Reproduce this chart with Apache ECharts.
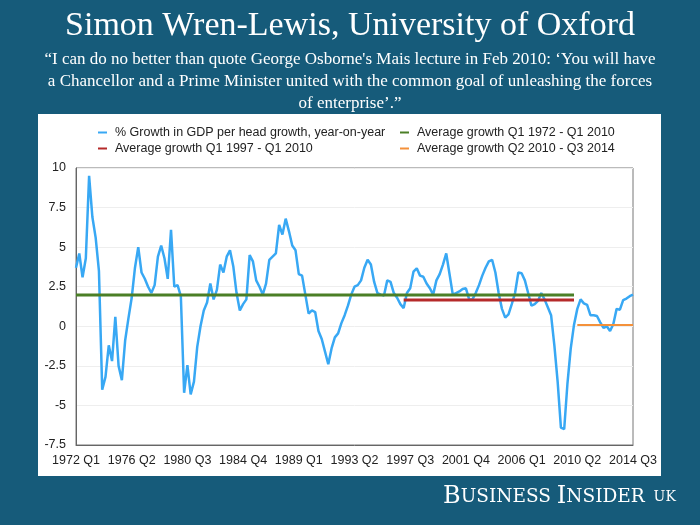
<!DOCTYPE html>
<html>
<head>
<meta charset="utf-8">
<script src="https://cdn.jsdelivr.net/npm/echarts@6/dist/echarts.min.js"></script>
<style>
html,body{margin:0;padding:0;background:#165b7a;}
#chart{width:700px;height:525px;}
</style>
</head>
<body>
<div id="chart"></div>
<script>
// Quarterly categories 1972 Q1 .. 2014 Q3
const startYear = 1972, endYear = 2014, endQuarter = 3;
const categories = [];
for (let y = startYear; y <= endYear; y++) {
  for (let q = 1; q <= 4; q++) {
    if (y === endYear && q > endQuarter) break;
    categories.push(y + ' Q' + q);
  }
}

// % growth in GDP per head, year-on-year
const growth = [
  3.7, 4.6, 3.1, 4.3, 9.5, 6.9, 5.6, 3.5, -4.0, -3.2,
  -1.2, -2.2, 0.6, -2.5, -3.4, -0.9, 0.5, 1.8, 3.7, 5.0,
  3.4, 3.0, 2.5, 2.1, 2.6, 4.4, 5.1, 4.3, 3.0, 6.1,
  2.5, 2.6, 1.9, -4.2, -2.45, -4.3, -3.5, -1.3, 0.0, 1.0,
  1.5, 2.7, 1.7, 2.3, 3.9, 3.4, 4.4, 4.8, 3.8, 2.1,
  1.0, 1.4, 1.7, 4.5, 4.1, 2.9, 2.5, 2.0, 2.7, 4.2,
  4.4, 4.6, 6.4, 5.8, 6.8, 6.0, 5.1, 4.8, 3.3, 3.2,
  2.0, 0.8, 1.0, 0.9, -0.3, -0.8, -1.6, -2.4, -1.4, -0.7,
  -0.45, 0.2, 0.7, 1.3, 2.0, 2.5, 2.6, 2.9, 3.7, 4.2,
  3.9, 2.8, 2.1, 2.0, 1.95, 2.9, 2.8, 2.1, 1.8, 1.4,
  1.15, 2.1, 2.4, 3.45, 3.66, 3.2, 3.13, 2.7, 2.4, 2.0,
  2.9, 3.3, 3.9, 4.6, 3.3, 2.0, 2.1, 2.2, 2.35, 2.4,
  1.7, 1.7, 2.1, 2.6, 3.2, 3.7, 4.1, 4.2, 3.4, 2.1,
  1.1, 0.55, 0.75, 1.4, 2.1, 3.4, 3.35, 2.9, 2.1, 1.3,
  1.4, 1.6, 2.1, 1.7, 1.2, 0.7, -1.2, -3.5, -6.4, -6.5,
  -3.6, -1.4, 0.1, 1.1, 1.7, 1.45, 1.35, 0.7, 0.7, 0.65,
  0.25, -0.1, 0.0, -0.3, 0.15, 1.1, 1.05, 1.65, 1.75, 1.9,
  2.0
];

// Average lines: [value, first category, last category]
const avgLong = [1.98, '1972 Q1', '2010 Q1'];
const avgBlair = [1.66, '1997 Q1', '2010 Q1'];
const avgRecent = [0.08, '2010 Q2', '2014 Q3'];

const seriesNames = [
  '% Growth in GDP per head growth, year-on-year',
  'Average growth Q1 1972 - Q1 2010',
  'Average growth Q1 1997 - Q1 2010',
  'Average growth Q2 2010 - Q3 2014'
];
const yTicks = ['-7.5', '-5', '-2.5', '0', '2.5', '5', '7.5', '10'];

const titleText = 'Simon Wren-Lewis, University of Oxford';
const quoteLines = [
  '\u201cI can do no better than quote George Osborne\'s Mais lecture in Feb 2010: \u2018You will have',
  'a Chancellor and a Prime Minister united with the common goal of unleashing the forces',
  'of enterprise\u2019.\u201d'
];

function flatLine(spec) {
  const a = categories.indexOf(spec[1]), b = categories.indexOf(spec[2]);
  return categories.map((c, i) => (i >= a && i <= b) ? spec[0] : null);
}

const colors = ['#38a8f4', '#4b7f26', '#b52a2a', '#f4913a'];
const chart = echarts.init(document.getElementById('chart'), null, {renderer: 'canvas'});

const legendPos = [[98, 126], [400, 126], [98, 142], [400, 142]];
const legends = seriesNames.map((n, k) => ({
  data: [n], left: legendPos[k][0], top: legendPos[k][1],
  icon: 'rect', itemWidth: 9, itemHeight: 2, itemGap: 10,
  textStyle: {fontFamily: 'Liberation Sans', fontSize: 12.5, color: '#222', padding: [0, 0, 0, 3]},
  padding: 0
}));

const quoteGraphics = quoteLines.map((t, k) => ({
  type: 'text', left: 'center', top: 51 + k * 22,
  style: {text: t, fill: '#ffffff', font: '17px "Liberation Serif"'}
}));

chart.setOption({
  backgroundColor: '#165b7a',
  animation: false,
  graphic: [
    {type: 'rect', shape: {x: 38, y: 114, width: 623, height: 362}, style: {fill: '#ffffff'}, z: -10},
    {type: 'text', left: 'center', top: 9, style: {text: titleText, fill: '#ffffff', font: '34px "Liberation Serif"'}}
  ].concat(quoteGraphics).concat([
    {type: 'text', left: 443, top: 485, style: {
      text: '{b|B}{s|USINESS }{b|I}{s|NSIDER}{u|  UK}',
      fill: '#ffffff',
      rich: {
        b: {font: '24px "DejaVu Serif"', fill: '#ffffff'},
        s: {font: '18.5px "DejaVu Serif"', fill: '#ffffff'},
        u: {font: '14px "DejaVu Serif"', fill: '#ffffff'}
      }
    }}
  ]),
  legend: legends,
  grid: {left: 76, right: 67, top: 168, bottom: 80, show: true, borderColor: '#777', borderWidth: 1, backgroundColor: '#fff'},
  xAxis: {
    type: 'category', data: categories, boundaryGap: false,
    axisLine: {onZero: false, lineStyle: {color: '#666', width: 1}},
    axisTick: {show: false},
    axisLabel: {interval: 16, color: '#222', fontFamily: 'Liberation Sans', fontSize: 12.5, margin: 9},
    splitLine: {show: false}
  },
  yAxis: {
    type: 'value', min: -7.5, max: 10, interval: 2.5,
    axisLine: {show: true, lineStyle: {color: '#666', width: 1}},
    axisTick: {show: false},
    axisLabel: {color: '#222', fontFamily: 'Liberation Sans', fontSize: 12.5, margin: 10,
      formatter: v => yTicks.find(t => Math.abs(parseFloat(t) - v) < 1e-6) || ''},
    splitLine: {lineStyle: {color: '#eeeeee', width: 1}}
  },
  series: [
    {name: seriesNames[0], type: 'line', data: growth, showSymbol: false, symbol: 'none', lineStyle: {color: colors[0], width: 2.5}, itemStyle: {color: colors[0]}, z: 2},
    {name: seriesNames[1], type: 'line', data: flatLine(avgLong), showSymbol: false, symbol: 'none', lineStyle: {color: colors[1], width: 3}, itemStyle: {color: colors[1]}, z: 3},
    {name: seriesNames[2], type: 'line', data: flatLine(avgBlair), showSymbol: false, symbol: 'none', lineStyle: {color: colors[2], width: 3}, itemStyle: {color: colors[2]}, z: 3},
    {name: seriesNames[3], type: 'line', data: flatLine(avgRecent), showSymbol: false, symbol: 'none', lineStyle: {color: colors[3], width: 2}, itemStyle: {color: colors[3]}, z: 3}
  ]
});
</script>
</body>
</html>
